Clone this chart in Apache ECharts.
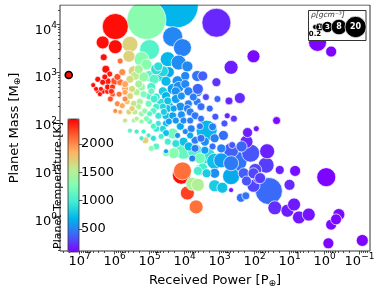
<!DOCTYPE html>
<html><head><meta charset="utf-8">
<script src="https://cdn.jsdelivr.net/npm/echarts@6/dist/echarts.min.js"></script>
<style>html,body{margin:0;padding:0;background:#fff}#c{width:390px;height:293px}</style>
</head><body><div id="c"></div>
<script>
// log10 of received power [P_earth]
const logPower = [
5.98,5.09,4.25,6.34,5.98,5.56,5.59,5.00,5.23,5.84,
6.31,6.25,6.14,4.34,4.06,4.48,4.17,3.92,4.45,4.20,
3.98,3.98,3.89,3.64,3.48,3.09,4.73,4.62,3.09,2.03,
2.67,3.64,3.39,2.73,2.42,3.12,2.78,1.37,3.37,2.89,
2.20,1.95,2.23,2.67,1.64,0.20,-0.19,1.67,1.28,0.84,
-0.05,1.98,1.89,1.59,1.00,1.42,1.06,0.87,0.73,0.45,
-0.19,-0.33,-0.41,-0.11,-1.08,4.25,3.64,3.89,3.92,3.84,
4.03,3.84,3.70,3.98,4.20,3.70,3.70,3.78,4.03,3.20,
3.34,2.53,2.37,2.95,2.67,2.11,4.03,4.31,4.34,4.67,
4.53,3.56,4.09,4.06,3.78,3.62,3.92,3.67,3.62,3.37,
3.14,3.14,2.92,2.67,2.67,2.39,2.25,2.31,2.03,2.03,
1.84,3.14,2.50,2.23,3.42,3.14,3.56,3.48,3.70,6.48,
6.34,6.20,6.06,6.12,5.87,5.70,5.56,5.37,5.17,5.00,
4.81,4.53,5.92,5.78,5.64,5.45,5.28,5.03,4.81,4.62,
4.45,5.98,5.84,5.59,5.42,5.23,5.00,4.75,4.53,4.34,
5.70,5.45,5.23,5.00,4.75,4.53,5.56,5.37,5.17,5.03,
4.89,5.12,4.53,6.48,6.34,6.20,6.53,6.39,6.20,6.00,
5.84,5.70,5.56,5.42,5.17,5.00,4.75,4.62,5.09,5.45,
4.34,4.17,3.62,4.62,4.48,4.48,4.59,4.45,4.25,4.81,
4.95,5.23,5.50,4.87,4.67,4.25,4.09,3.75,3.53,4.12,
4.31,4.09,3.53,4.81,4.53,4.12,3.81,3.56,3.84,3.53,
4.25,4.48,4.81,4.95,3.88,3.42,3.20,3.06,3.28,2.86,
2.59,2.64,2.95,5.70,5.50,5.31,5.14,4.89,5.09,5.37,
4.89,5.23,4.95,5.31,5.70,6.06,5.92,5.78,5.31,4.87,
4.53,6.61,6.42,6.28,6.09
];
// log10 of planet mass [M_earth]
const logMass = [
3.96,4.10,4.40,3.63,3.54,3.59,3.34,3.48,3.28,3.24,
3.32,3.07,2.97,3.75,3.52,3.28,3.21,3.13,3.01,2.82,
2.93,2.76,2.61,2.93,2.93,2.80,2.93,2.61,4.04,3.34,
3.11,2.61,2.49,2.41,2.47,2.08,2.10,2.00,1.79,1.69,
1.75,1.83,1.56,1.38,1.36,3.63,3.44,1.07,0.97,0.95,
0.82,0.97,0.80,0.53,0.66,0.18,0.12,0.25,-0.02,0.04,
-0.17,-0.06,0.04,-0.56,-0.50,2.61,2.39,2.35,2.25,2.18,
2.00,2.00,2.10,1.77,1.69,1.59,1.42,1.21,1.56,1.46,
1.26,1.28,1.46,1.17,1.11,1.32,1.36,1.32,1.73,1.67,
1.32,0.97,0.86,0.95,0.68,0.66,0.49,0.20,0.95,0.90,
0.90,0.64,0.60,0.84,0.55,0.39,0.43,0.90,0.90,0.64,
0.80,1.15,1.15,0.74,1.56,1.63,1.21,1.01,1.36,2.61,
2.61,2.61,2.55,2.45,2.55,2.59,2.51,2.59,2.55,2.51,
2.49,2.51,2.35,2.31,2.39,2.35,2.39,2.35,2.29,2.29,
2.31,2.20,2.18,2.18,2.18,2.14,2.14,2.10,2.10,2.10,
2.00,2.00,1.98,1.98,1.94,1.94,1.79,1.77,1.77,1.69,
1.63,1.59,1.36,2.86,2.80,2.70,2.66,2.66,2.82,2.82,
2.80,2.66,2.86,2.93,2.91,2.93,3.13,3.03,3.17,3.03,
2.66,2.70,2.66,1.83,2.41,2.25,2.18,1.98,2.00,3.07,
2.70,2.70,2.66,2.45,2.37,2.45,2.51,2.49,2.29,2.29,
2.25,2.12,2.04,1.83,1.74,1.88,1.83,1.88,1.69,1.63,
1.52,1.56,1.46,1.42,1.46,1.38,1.87,2.45,2.25,1.94,
2.04,1.49,1.42,2.45,2.25,2.29,2.20,2.20,2.04,2.04,
1.88,1.63,2.61,2.76,2.76,2.70,2.91,3.01,3.07,2.86,
2.82,2.74,2.55,2.91,2.61
];
// planet temperature [K]
const tempK = [
2400,1310,690,2400,2400,1700,1700,1080,1300,2100,
2400,2400,2350,520,500,700,540,520,650,550,
520,520,500,450,380,250,850,800,210,120,
180,480,300,200,220,350,200,120,700,430,
180,150,220,380,190,110,110,280,180,140,
110,300,280,420,220,230,180,170,160,150,
120,120,120,110,110,560,470,500,500,480,
520,490,470,520,560,480,480,500,750,420,
900,430,400,600,470,350,1150,1300,1200,1000,
1300,850,2400,2100,1450,1500,2250,2100,1000,800,
550,800,750,650,150,450,450,380,300,300,
280,750,450,350,550,500,1200,1000,1050,2400,
2400,2350,2200,2200,2100,1900,1700,1500,1250,1050,
950,700,2000,1900,1750,1600,1450,1200,1000,850,
650,2000,1900,1700,1550,1400,1100,950,750,620,
1600,1500,1350,1150,950,700,1100,1000,1000,1000,
900,1700,600,2400,2400,2400,2400,2400,2350,2200,
2100,1900,1650,1550,1350,1100,900,850,1300,1700,
600,550,400,850,750,750,800,600,560,900,
1050,1350,1650,1000,900,600,560,480,430,560,
620,560,440,950,750,650,500,450,650,450,
900,1000,1100,1300,700,600,500,400,420,350,
260,350,500,2000,1700,1500,1350,1100,1250,1500,
1050,1000,1150,1450,1900,2300,2200,2000,1450,1100,
720,2400,2400,2400,2300
];
// planet density [g cm^-3]
const density = [
36,115,172,4.65,5.8,8.66,3.65,16.7,7.15,0.41,
0.68,1.04,0.41,16.7,12.3,7.15,7.15,2.8,2.8,2.8,
1.51,1.51,1.51,2.8,2.09,1.51,2.8,1.51,49,4.65,
5.8,2.8,0.68,1.04,2.8,0.68,0.41,1.04,19.2,2.09,
2.09,0.41,4.65,7.15,7.15,12.3,2.8,8.66,1.51,2.8,
14.4,4.65,2.8,40,2.8,5.8,4.65,4.65,4.65,4.65,
2.8,2.8,3.65,2.8,3.65,1.51,1.04,1.04,1.04,1.04,
0.68,0.68,1.04,0.41,0.41,1.04,1.04,0.68,1.51,0.68,
8.66,19.2,2.8,7.15,7.15,12.3,8.66,2.8,2.8,0.41,
0.68,2.8,12.3,12.3,4.65,4.65,5.8,5.8,1.51,1.51,
2.09,3.65,2.8,10.4,0.22,1.51,1.04,2.8,2.8,4.65,
2.8,8.66,16.7,2.09,1.51,1.51,2.8,2.09,7.15,0.22,
0.41,0.41,0.41,0.41,0.41,0.41,0.68,0.68,0.68,1.04,
1.04,1.51,0.41,0.41,0.41,0.68,0.68,0.68,0.68,0.68,
1.51,0.22,0.22,0.41,0.41,0.41,0.41,0.68,1.04,1.04,
0.22,0.22,0.22,0.41,0.41,0.68,0.22,0.22,0.22,0.22,
0.41,0.68,0.22,0.41,0.41,0.41,0.22,0.22,0.68,1.04,
0.68,0.68,1.04,1.51,2.09,2.8,1.51,2.8,2.8,2.8,
2.8,2.8,2.8,0.68,1.04,1.04,0.68,0.68,0.68,2.8,
1.51,1.04,0.68,1.04,1.51,1.51,1.04,1.04,1.04,1.51,
0.68,1.04,0.68,0.68,0.68,1.04,1.04,0.68,0.68,1.04,
1.04,0.68,0.68,0.41,1.51,1.04,1.04,0.68,0.68,0.68,
0.68,0.68,1.51,0.41,0.41,0.41,0.41,0.68,0.41,0.22,
0.41,0.22,0.68,1.04,0.68,0.41,0.68,0.68,1.51,2.09,
2.09,0.22,0.22,0.41,0.41
];
// highlighted planet (black edge)
const hiLogPower = [7.31];
const hiLogMass = [2.95];
const hiTemp = [2400];
const hiDensity = [0.68];

const xTicks = [7,6,5,4,3,2,1,0,-1];
const yTicks = [0,1,2,3,4];
const cbTicks = [500,1000,1500,2000];
const legendRho = [0.2,1,3,8,20];

const X_MIN = -1.3, X_MAX = 7.56, Y_MIN = -0.72, Y_MAX = 4.41;
const T_MIN = 94, T_MAX = 2442;
const FONT = 'DejaVu Sans';

function minors(lo, hi) {
  const out = [];
  for (let n = Math.floor(lo) - 1; n <= Math.ceil(hi); n++) {
    for (let k = 2; k <= 9; k++) {
      const v = n + Math.log10(k);
      if (v > lo && v < hi) out.push(v);
    }
  }
  return out;
}
const sizeOf = rho => 6.9 * Math.pow(rho, 0.36) + 1;
const expLabel = v => {
  const e = Math.round(v);
  return '{b|10}{s|' + (e < 0 ? '\u2212' + (-e) : e) + '}';
};
const richTick = {
  b: {fontSize: 13, fontFamily: FONT, color: '#000', verticalAlign: 'bottom'},
  s: {fontSize: 9, fontFamily: FONT, color: '#000', verticalAlign: 'bottom', padding: [0, 0, 7, 0]}
};
const rainbow = ['#8000ff','#4062fa','#00b4ec','#40ecd4','#80ffb4','#bfec8e','#ffb462','#ff6232','#ff0000'];

const mainData = logPower.map((p, i) => [p, logMass[i], tempK[i], density[i]])
  .sort((a, b) => b[3] - a[3]);
const hiData = hiLogPower.map((p, i) => [p, hiLogMass[i], hiTemp[i], hiDensity[i]]);

// legend bubble positions derived from bubble sizes
const legSizes = legendRho.map(sizeOf);
const legX = [];
legSizes.forEach((d, i) => {
  legX.push(i === 0 ? 6 : legX[i - 1] + (legSizes[i - 1] + d) / 2 - 1.8);
});
const legData = legendRho.map((r, i) => ({
  value: [legX[i], 0, r],
  label: i === 0
    ? {show: true, position: 'bottom', distance: 1, color: '#000', fontSize: 7, fontWeight: 'bold', formatter: String(r)}
    : {show: true, position: 'inside', color: '#fff', fontSize: i === 1 ? 6 : (i === 2 ? 7 : 8), fontWeight: 'bold', formatter: String(r)}
}));

const axisTickStyle = {lineStyle: {color: '#222', width: 0.8}};
const noLine = {show: false, onZero: false};
const chart = echarts.init(document.getElementById('c'), null, {renderer: 'canvas'});
chart.setOption({
  animation: false,
  textStyle: {fontFamily: FONT},
  grid: [
    {left: 51, top: 5, width: 319, height: 250, show: true, borderColor: '#333', borderWidth: 1, backgroundColor: 'transparent', z: 3},
    {left: 68, top: 119, width: 11, height: 133, show: true, borderColor: '#333', borderWidth: 0.8, backgroundColor: 'transparent', z: 10},
    {left: 309, top: 17, width: 56, height: 20, show: false}
  ],
  xAxis: [
    {type: 'value', gridIndex: 0, position: 'bottom', min: X_MIN, max: X_MAX, inverse: true,
     axisLine: noLine, splitLine: {show: false},
     axisTick: Object.assign({show: true, length: 3.5, customValues: xTicks}, axisTickStyle),
     axisLabel: {customValues: xTicks, formatter: expLabel, rich: richTick, margin: 1},
     name: '{t|Received Power [P}{u|\u2295}{t|]}', nameLocation: 'middle', nameGap: 22,
     nameTextStyle: {rich: {t: {fontSize: 13, fontFamily: FONT, color: '#000'}, u: {fontSize: 9, fontFamily: FONT, color: '#000', padding: [6, 0, 0, 0]}}}},
    {type: 'value', gridIndex: 0, position: 'bottom', min: X_MIN, max: X_MAX, inverse: true,
     axisLine: noLine, splitLine: {show: false}, axisLabel: {show: false},
     axisTick: Object.assign({show: true, length: 2, customValues: minors(X_MIN, X_MAX)}, axisTickStyle)},
    {type: 'value', gridIndex: 1, show: false, min: 0, max: 1, axisLine: noLine},
    {type: 'value', gridIndex: 2, show: false, min: 0, max: 56, axisLine: noLine}
  ],
  yAxis: [
    {type: 'value', gridIndex: 0, position: 'left', min: Y_MIN, max: Y_MAX,
     axisLine: noLine, splitLine: {show: false},
     axisTick: Object.assign({show: true, length: 3.5, customValues: yTicks}, axisTickStyle),
     axisLabel: {customValues: yTicks, formatter: expLabel, rich: richTick, margin: 3, padding: [8, 0, 0, 0]},
     name: '{t|Planet Mass [M}{u|\u2295}{t|]}', nameLocation: 'middle', nameGap: 38, nameRotate: 90,
     nameTextStyle: {rich: {t: {fontSize: 13, fontFamily: FONT, color: '#000'}, u: {fontSize: 9, fontFamily: FONT, color: '#000', padding: [6, 0, 0, 0]}}}},
    {type: 'value', gridIndex: 0, position: 'left', min: Y_MIN, max: Y_MAX,
     axisLine: noLine, splitLine: {show: false}, axisLabel: {show: false},
     axisTick: Object.assign({show: true, length: 2, customValues: minors(Y_MIN, Y_MAX)}, axisTickStyle)},
    {type: 'value', gridIndex: 1, position: 'right', min: T_MIN, max: T_MAX,
     axisLine: noLine, splitLine: {show: false},
     axisTick: Object.assign({show: true, length: 3.5, customValues: cbTicks}, axisTickStyle),
     axisLabel: {customValues: cbTicks, fontSize: 13, color: '#000', margin: 2, formatter: v => String(v)}},
    {type: 'value', gridIndex: 1, position: 'left', min: T_MIN, max: T_MAX,
     axisLine: noLine, splitLine: {show: false}, axisTick: {show: false}, axisLabel: {show: false},
     name: 'Planet Temperature [K]', nameLocation: 'middle', nameRotate: 90, nameGap: 4,
     nameTextStyle: {fontSize: 11, color: '#000', fontFamily: FONT}},
    {type: 'value', gridIndex: 2, show: false, min: -1, max: 1, axisLine: noLine}
  ],
  visualMap: {
    type: 'continuous', min: T_MIN, max: T_MAX, dimension: 2, seriesIndex: [0, 1],
    inRange: {color: rainbow}, left: 68, top: 119, itemWidth: 11, itemHeight: 133,
    padding: 0, calculable: false, hoverLink: false, text: null, z: 4
  },
  series: [
    {type: 'scatter', xAxisIndex: 0, yAxisIndex: 0, data: mainData,
     symbolSize: v => sizeOf(v[3]),
     itemStyle: {borderColor: '#fff', borderWidth: 0.7, opacity: 1}},
    {type: 'scatter', xAxisIndex: 0, yAxisIndex: 0, data: hiData,
     symbolSize: v => sizeOf(v[3]),
     itemStyle: {borderColor: '#000', borderWidth: 1.6, opacity: 1}},
    {type: 'scatter', xAxisIndex: 3, yAxisIndex: 4, data: legData, z: 20,
     symbolSize: v => sizeOf(v[2]),
     itemStyle: {color: '#000', borderColor: '#fff', borderWidth: 0.7, opacity: 1}}
  ],
  graphic: [
    {type: 'rect', left: 0, top: 0, shape: {width: 390, height: 4.5}, style: {fill: '#fff'}, z: 100},
    {type: 'rect', shape: {x: 308.5, y: 10.5, width: 57.5, height: 30}, style: {fill: '#fff', stroke: '#333', lineWidth: 1}, z: 15},
    {type: 'text', left: 311, top: 11.5, style: {text: '\u03c1[gcm\u207b\u00b3]', fontSize: 7.5, fontStyle: 'italic', fontFamily: FONT, fill: '#333'}, z: 16}
  ]
});
</script>
</body></html>
